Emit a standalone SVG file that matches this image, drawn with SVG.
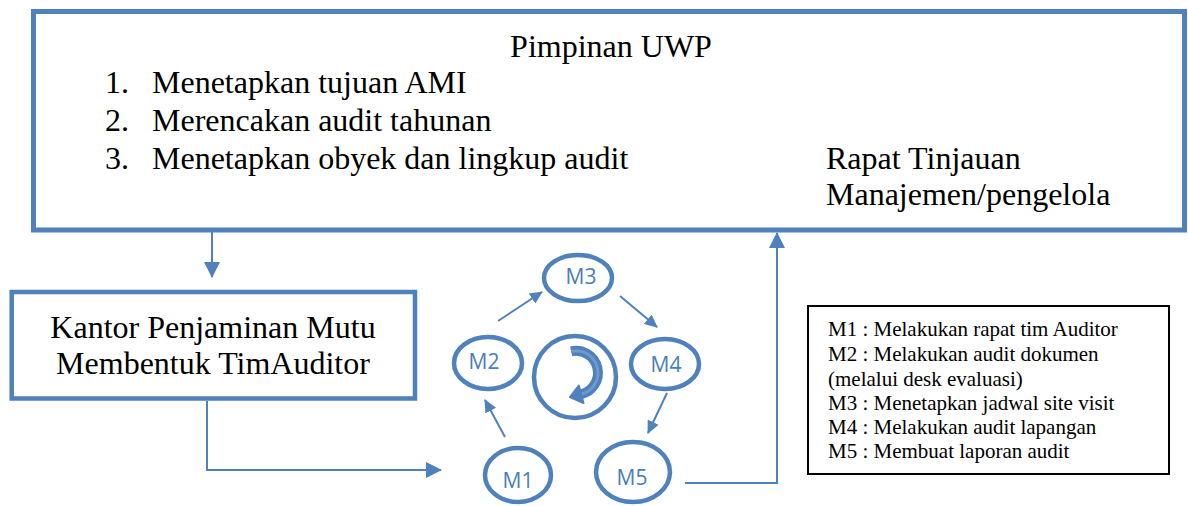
<svg xmlns="http://www.w3.org/2000/svg" width="1188" height="506" viewBox="0 0 1188 506">
<style>
.box{fill:#fff;stroke:#4f81bd}
.ser{font-family:"Liberation Serif","Times New Roman",serif;fill:#000}
.big{font-size:32px}
.leg{font-size:21px}
.ell{fill:#fff;stroke:#4f81bd;stroke-width:4.5}
.mt{font-family:"Open Sans","Noto Sans",sans-serif;font-size:21px;fill:#4a7ebb;text-anchor:middle}
.con{fill:none;stroke:#4f81bd;stroke-width:2}
</style>
<defs>
<marker id="ab" viewBox="0 0 16 16" refX="15" refY="8" markerWidth="16" markerHeight="16" markerUnits="userSpaceOnUse" orient="auto"><path d="M0,0 L16,8 L0,16 z" fill="#4f81bd"/></marker>
<marker id="as" viewBox="0 0 13 12" refX="12" refY="6" markerWidth="13" markerHeight="12" markerUnits="userSpaceOnUse" orient="auto"><path d="M0,0 L13,6 L0,12 z" fill="#4f81bd"/></marker>
</defs>
<g id="pimpinan">
<rect class="box" x="33.5" y="11.5" width="1151" height="218.5" stroke-width="5"/>
<text class="ser big" x="611" y="57" text-anchor="middle">Pimpinan UWP</text>
<text class="ser big" x="105" y="93">1.</text>
<text class="ser big" x="152" y="93">Menetapkan tujuan AMI</text>
<text class="ser big" x="105" y="131">2.</text>
<text class="ser big" x="152" y="131">Merencakan audit tahunan</text>
<text class="ser big" x="105" y="169">3.</text>
<text class="ser big" x="152" y="169">Menetapkan obyek dan lingkup audit</text>
<text class="ser big" x="826" y="169">Rapat Tinjauan</text>
<text class="ser big" x="826" y="205">Manajemen/pengelola</text>
</g>
<g id="kantor">
<rect class="box" x="11.7" y="292" width="403.3" height="106.5" stroke-width="4.5"/>
<text class="ser big" x="213" y="338" text-anchor="middle">Kantor Penjaminan Mutu</text>
<text class="ser big" x="213" y="374" text-anchor="middle">Membentuk TimAuditor</text>
</g>
<g id="legend">
<rect x="808" y="306" width="361" height="168" fill="#fff" stroke="#000" stroke-width="2"/>
<text class="ser leg" x="828" y="336">M1 : Melakukan rapat tim Auditor</text>
<text class="ser leg" x="828" y="361">M2 : Melakukan audit dokumen</text>
<text class="ser leg" x="828" y="386">(melalui desk evaluasi)</text>
<text class="ser leg" x="828" y="410">M3 : Menetapkan jadwal site visit</text>
<text class="ser leg" x="828" y="434">M4 : Melakukan audit lapangan</text>
<text class="ser leg" x="828" y="458">M5 : Membuat laporan audit</text>
</g>
<g id="center">
<circle class="ell" cx="575" cy="377" r="41"/>
<path d="M571.2 351.3 A22 22 0 0 1 580.7 394.3" fill="none" stroke="#4f81bd" stroke-width="10"/>
<path d="M571.2 351.3 A22 22 0 0 1 580.7 394.3" fill="none" stroke="#6f98cb" stroke-width="3"/>
<path d="M570 397.2 L583.5 403 L578.8 385.5 z" fill="#4f81bd" stroke="#4f81bd" stroke-width="2" stroke-linejoin="round"/>
</g>
<g id="m1"><ellipse class="ell" cx="518" cy="475" rx="33" ry="27"/><text class="mt" x="518" y="488">M1</text></g>
<g id="m2"><ellipse class="ell" cx="488" cy="363" rx="34" ry="26"/><text class="mt" x="484" y="369">M2</text></g>
<g id="m3"><ellipse class="ell" cx="578" cy="278" rx="34" ry="23"/><text class="mt" x="581" y="284">M3</text></g>
<g id="m4"><ellipse class="ell" cx="665" cy="364" rx="34" ry="25"/><text class="mt" x="666" y="372">M4</text></g>
<g id="m5"><ellipse class="ell" cx="633" cy="472" rx="37" ry="30"/><text class="mt" x="632" y="485">M5</text></g>
<g id="connectors">
<path class="con" d="M212 231 L212 277" marker-end="url(#ab)"/>
<path class="con" d="M207 401 L207 470 L441 470" marker-end="url(#ab)"/>
<path class="con" d="M685 483 L777 483 L777 233" marker-end="url(#ab)"/>
<path class="con" d="M505 437 L485 400" marker-end="url(#as)"/>
<path class="con" d="M498 321 L542 292" marker-end="url(#as)"/>
<path class="con" d="M620 296 L657 327" marker-end="url(#as)"/>
<path class="con" d="M667 393 L648 433" marker-end="url(#as)"/>
</g>
</svg>
